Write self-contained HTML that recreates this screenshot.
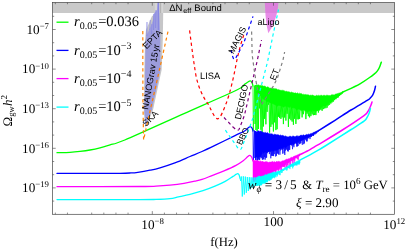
<!DOCTYPE html>
<html><head><meta charset="utf-8"><style>
html,body{margin:0;padding:0;background:#fff;}
svg{display:block;will-change:transform;text-rendering:geometricPrecision;}
.se{font-family:"Liberation Serif",serif;}
.sa{font-family:"Liberation Sans",sans-serif;}
</style></head><body>
<svg width="407" height="250" viewBox="0 0 407 250">
<rect width="407" height="250" fill="#fff"/>
<rect x="52.5" y="2.5" width="342.0" height="10.5" fill="#c9c9c9"/>
<rect x="154.8" y="2.8" width="8.4" height="10.2" fill="#d6d6d6"/>
<rect x="159.8" y="2.8" width="1.4" height="10.2" fill="#b4b4b4"/>
<polygon points="158,13 163.2,13 162.8,40 161.6,70 153,110 145.5,128 143.8,110 144.2,75 145,40 146,30 152,16" fill="#c6c6c8"/>
<polygon points="157.5,2.5 159.2,2.5 159.4,14 160.2,35 160.2,70 151.6,110 145.2,126 144.6,110 145.2,75 145.8,40 146.4,36 148,32 150.5,27 153,20 153.5,14 157,10" fill="#a2a2e2"/>
<polygon points="160.2,35 160.2,70 151.6,110 145.2,126 144.6,110 145.2,75 145.8,40 146.4,36 150,30" fill="#9c9cdc"/>
<line x1="147" y1="22" x2="146.8" y2="36" stroke="#8484e2" stroke-width="0.9"/>
<line x1="150.3" y1="20" x2="149.8" y2="30" stroke="#8484e2" stroke-width="0.7"/>
<line x1="154" y1="14" x2="153.6" y2="30" stroke="#8484e2" stroke-width="0.9"/>
<line x1="156" y1="10" x2="155.6" y2="28" stroke="#8484e2" stroke-width="0.8"/>
<line x1="158.3" y1="2.5" x2="158.3" y2="30" stroke="#8484e2" stroke-width="1.1"/>
<line x1="152" y1="24" x2="151.5" y2="34" stroke="#8484e2" stroke-width="0.7"/>
<polygon points="264.8,2.5 278.4,2.5 277.6,10 276.2,16 274.2,22 271.8,27.5 268.3,33.2 266.6,25 265.5,15" fill="#e16be1" fill-opacity="0.78"/>
<polyline points="253.0,86.0 253.3,131.0 254.6,85.5 255.0,124.0 255.6,85.0 255.9,130.0 256.3,85.0" fill="none" stroke="#00ff00" stroke-width="0.8" stroke-linejoin="miter"/>
<polygon points="256.3,84.8 257.1,84.7 257.9,85.3 258.7,84.7 259.5,85.4 260.3,85.4 261.1,85.2 261.9,85.9 262.7,85.6 263.5,86.2 264.3,86.0 265.1,86.2 265.9,86.7 266.7,87.4 267.5,86.8 268.3,87.1 269.1,87.7 269.9,88.3 270.7,88.0 271.5,88.0 272.3,88.8 273.1,88.0 273.9,89.1 274.7,88.6 275.5,88.7 276.3,88.8 277.1,89.2 277.9,89.9 278.7,89.4 279.5,90.0 280.3,90.3 281.1,90.2 281.9,90.5 282.7,90.2 283.5,90.4 284.3,90.7 285.1,91.4 285.9,91.3 286.7,91.3 287.5,91.7 288.3,91.7 289.1,91.7 289.9,92.3 290.7,92.4 291.5,92.0 292.3,92.5 293.1,92.6 293.9,93.1 294.7,93.1 295.5,92.7 296.3,93.6 297.1,92.8 297.9,93.3 298.7,93.8 299.5,93.2 300.3,93.7 301.1,93.3 301.9,94.1 302.7,94.4 303.5,94.2 304.3,94.7 305.1,94.2 305.9,94.7 306.7,94.7 307.5,94.8 308.3,94.8 309.1,95.3 309.9,95.5 310.7,95.1 311.5,95.4 312.3,94.8 313.1,95.6 313.9,95.6 314.7,96.0 315.5,95.9 316.3,95.3 317.1,95.5 317.9,95.8 318.7,95.2 319.5,95.7 320.3,95.4 321.1,95.3 321.9,95.2 322.7,96.0 323.5,95.2 324.3,95.3 325.1,95.4 325.9,95.9 326.7,94.9 327.5,95.3 328.3,95.4 329.1,95.6 329.9,95.5 330.7,95.4 331.5,94.8 332.3,94.8 333.1,94.7 333.9,94.9 334.7,94.8 335.5,94.1 336.3,93.9 337.1,93.7 337.9,93.4 338.7,93.2 339.5,93.0 340.3,92.7 341.1,92.4 341.9,92.2 342.7,91.9 343.0,91.8 343.0,92.3 342.7,92.5 341.9,93.2 341.1,93.8 340.3,94.7 339.5,95.4 338.7,95.9 337.9,96.6 337.1,97.6 336.3,98.2 335.5,98.4 334.7,99.4 333.9,99.4 333.1,100.2 332.3,101.1 331.5,101.8 330.7,102.5 329.9,102.8 329.1,102.5 328.3,104.2 327.5,104.5 326.7,104.8 325.9,105.8 325.1,106.3 324.3,106.3 323.5,106.1 322.7,106.5 321.9,107.0 321.1,107.4 320.3,108.1 319.5,109.5 318.7,110.0 317.9,110.4 317.1,110.0 316.3,111.3 315.5,111.3 314.7,111.0 313.9,111.5 313.1,110.9 312.3,110.8 311.5,111.2 310.7,111.4 309.9,110.8 309.1,111.5 308.3,111.5 307.5,111.4 306.7,111.3 305.9,111.4 305.1,111.0 304.3,110.0 303.5,110.0 302.7,110.7 301.9,110.1 301.1,110.4 300.3,109.3 299.5,109.5 298.7,109.1 297.9,109.6 297.1,109.7 296.3,109.7 295.5,108.7 294.7,107.7 293.9,108.4 293.1,107.5 292.3,107.9 291.5,108.4 290.7,106.7 289.9,106.8 289.1,107.7 288.3,106.7 287.5,106.7 286.7,106.2 285.9,106.1 285.1,106.6 284.3,106.5 283.5,107.2 282.7,106.9 281.9,105.6 281.1,105.9 280.3,105.8 279.5,105.5 278.7,105.3 277.9,105.9 277.1,106.2 276.3,104.7 275.5,105.2 274.7,104.6 273.9,104.3 273.1,103.7 272.3,103.4 271.5,103.6 270.7,102.9 269.9,102.7 269.1,102.1 268.3,101.7 267.5,102.1 266.7,100.6 265.9,100.4 265.1,99.7 264.3,99.7 263.5,99.2 262.7,98.4 261.9,97.9 261.1,95.7 260.3,95.9 259.5,95.0 258.7,94.1 257.9,93.8 257.1,93.6 256.3,92.4" fill="#00ff00" stroke="#00ff00" stroke-width="0.5"/>
<polyline points="256.5,91.1 257.1,131.1 257.8,92.1 258.4,129.0 259.0,93.0 259.6,108.4 260.2,94.2 260.9,129.8 261.5,95.5 262.1,133.1 262.8,96.6 263.4,126.5 264.0,97.7 264.6,118.8 265.2,98.7 265.9,124.3 266.5,99.8 267.1,111.9 267.8,100.8 268.4,104.7 269.0,101.4 269.6,132.6 270.2,102.0 270.9,126.9 271.5,102.5 272.1,124.4 272.8,103.0 273.4,131.5 274.0,103.6 274.6,122.4 275.2,104.0 275.9,130.1 276.5,104.2 277.1,129.2 277.8,104.4 278.4,116.8 279.0,104.5 279.6,117.9 280.2,104.7 280.9,118.9 281.5,104.9 282.1,117.4 282.8,105.0 283.4,124.1 284.0,105.2 284.6,117.5 285.2,105.4 285.9,120.6 286.5,105.5 287.1,113.8 287.8,105.7 288.4,126.9 289.0,105.9 289.6,118.7 290.2,106.1 290.9,120.2 291.5,106.4 292.1,121.6 292.8,106.7 293.4,124.8 294.0,107.0 294.6,118.8 295.2,107.3 295.9,123.9 296.5,107.6 297.1,119.3 297.8,107.9 298.4,119.3 299.0,108.2 299.6,118.9 300.2,108.5 300.9,110.4 301.5,108.7 302.1,117.4 302.8,108.9 303.4,114.2 304.0,109.1 304.6,109.8 305.2,109.2 305.9,119.1 306.5,109.4 307.1,113.7 307.8,109.6 308.4,116.2 309.0,109.8 309.6,117.4 310.2,110.0 310.9,116.1 311.5,110.1 312.1,114.4 312.8,110.3 313.4,115.2 314.0,110.5 314.6,115.0 315.2,109.8 315.9,115.1 316.5,109.1 317.1,111.0 317.8,108.4 318.4,112.6 319.0,107.7 319.6,110.4 320.2,107.0 320.9,109.8 321.5,106.3 322.1,110.8 322.8,105.7 323.4,109.1 324.0,105.0 324.6,108.4 325.2,104.3 325.9,108.2 326.5,103.6 327.1,107.7 327.8,102.8 328.4,105.5 329.0,101.9 329.6,104.8 330.2,101.0 330.9,103.5 331.5,100.2 332.1,102.4 332.8,99.3 333.4,101.6 334.0,98.4 334.6,100.1 335.2,97.5 335.9,99.2 336.5,96.7 337.1,98.0 337.8,95.6 338.4,97.4 339.0,94.6 339.6,96.0 340.2,93.6 340.9,95.0 341.5,92.5 342.1,93.9 342.8,91.5 343.4,92.1" fill="none" stroke="#00ff00" stroke-width="0.9" stroke-linejoin="miter"/>
<path d="M57.00,152.70C59.17,152.63 66.17,152.52 70.00,152.30C73.83,152.08 76.67,151.78 80.00,151.40C83.33,151.02 86.67,150.60 90.00,150.00C93.33,149.40 96.67,148.67 100.00,147.80C103.33,146.93 105.87,146.10 110.00,144.80C114.13,143.50 112.47,145.20 124.80,140.00C137.13,134.80 165.33,121.93 184.00,113.60C202.67,105.27 226.70,94.87 236.80,90.00C246.90,85.13 242.73,85.73 244.60,84.40C246.47,83.07 247.07,82.58 248.00,82.00C248.93,81.42 249.53,80.82 250.20,80.90C250.87,80.98 251.53,81.65 252.00,82.50C252.47,83.35 252.83,85.42 253.00,86.00" fill="none" stroke="#00ff00" stroke-width="1.3" stroke-linejoin="round" stroke-linecap="round"/>
<path d="M343.00,92.00C345.83,90.63 355.17,86.50 360.00,83.80C364.83,81.10 369.33,77.68 372.00,75.80C374.67,73.92 374.93,73.57 376.00,72.50C377.07,71.43 377.73,70.48 378.40,69.40C379.07,68.32 379.52,67.20 380.00,66.00C380.48,64.80 381.08,62.83 381.30,62.20" fill="none" stroke="#00ff00" stroke-width="1.5" stroke-linejoin="round" stroke-linecap="round"/>
<polyline points="253.0,131.0 253.3,160.0 254.5,130.5 254.9,158.0 255.3,131.0 255.6,160.0 255.6,131.5" fill="none" stroke="#0000ff" stroke-width="0.8" stroke-linejoin="miter"/>
<polygon points="255.6,131.6 256.4,131.8 257.2,131.4 258.0,130.7 258.8,130.9 259.6,131.4 260.4,131.1 261.2,131.5 262.0,131.4 262.8,132.3 263.6,132.5 264.4,132.8 265.2,132.2 266.0,132.9 266.8,133.0 267.6,132.6 268.4,133.6 269.2,133.9 270.0,133.2 270.8,134.2 271.6,133.7 272.4,134.0 273.2,134.7 274.0,134.7 274.8,134.1 275.6,134.5 276.4,134.8 277.2,134.7 278.0,134.7 278.8,134.9 279.6,135.5 280.4,134.9 281.2,135.6 282.0,135.6 282.8,135.3 283.6,135.8 284.4,136.2 285.2,136.2 286.0,135.8 286.8,136.9 287.6,136.8 288.4,137.1 289.2,136.2 290.0,136.4 290.8,136.1 291.6,136.9 292.4,136.2 293.2,136.0 294.0,136.3 294.8,136.7 295.6,136.5 296.4,135.9 297.2,135.7 298.0,136.4 298.8,136.0 299.6,136.1 300.4,135.3 301.2,135.1 302.0,135.6 302.8,135.2 303.6,134.7 304.4,135.5 305.2,135.0 306.0,135.0 306.8,134.2 307.6,134.7 308.4,134.0 309.2,134.4 310.0,134.0 310.8,133.6 311.6,133.4 312.4,133.2 313.2,132.6 314.0,132.2 314.8,132.0 315.6,131.6 316.4,131.2 317.2,130.9 318.0,130.6 318.8,130.3 319.0,130.2 319.0,130.8 318.8,130.9 318.0,131.5 317.2,132.0 316.4,132.7 315.6,133.1 314.8,133.6 314.0,134.4 313.2,134.9 312.4,135.5 311.6,136.1 310.8,136.5 310.0,137.1 309.2,137.1 308.4,137.5 307.6,137.5 306.8,137.8 306.0,138.6 305.2,138.5 304.4,139.1 303.6,139.0 302.8,140.2 302.0,140.0 301.2,140.8 300.4,141.1 299.6,141.3 298.8,141.0 298.0,141.9 297.2,142.1 296.4,143.4 295.6,142.6 294.8,143.4 294.0,144.4 293.2,144.6 292.4,143.8 291.6,144.4 290.8,144.3 290.0,145.1 289.2,145.1 288.4,145.4 287.6,145.8 286.8,146.7 286.0,147.4 285.2,147.7 284.4,146.8 283.6,147.3 282.8,147.8 282.0,148.9 281.2,148.1 280.4,148.6 279.6,148.7 278.8,149.3 278.0,149.5 277.2,150.1 276.4,150.3 275.6,150.7 274.8,150.0 274.0,151.2 273.2,150.9 272.4,150.8 271.6,150.7 270.8,151.6 270.0,151.3 269.2,151.3 268.4,152.1 267.6,151.2 266.8,152.7 266.0,152.1 265.2,151.8 264.4,152.6 263.6,153.1 262.8,152.3 262.0,153.9 261.2,154.7 260.4,156.5 259.6,156.8 258.8,157.3 258.0,157.0 257.2,157.7 256.4,157.0 255.6,157.0" fill="#0000ff" stroke="#0000ff" stroke-width="0.5"/>
<polyline points="255.8,156.0 256.2,156.3 256.5,156.0 256.9,160.3 257.2,156.0 257.6,160.5 257.9,156.0 258.2,159.3 258.6,156.0 258.9,159.8 259.3,156.0 259.6,160.1 260.0,156.0 260.3,156.8 260.7,155.0 261.0,158.3 261.4,153.9 261.7,157.7 262.1,152.9 262.4,159.8 262.8,151.8 263.1,159.3 263.5,151.4 263.8,159.3 264.2,151.2 264.5,157.1 264.9,151.1 265.2,159.7 265.6,150.9 265.9,157.8 266.3,150.8 266.6,157.7 267.0,150.6 267.3,153.2 267.7,150.5 268.0,150.9 268.4,150.3 268.7,151.9 269.1,150.1 269.4,154.1 269.8,150.0 270.1,151.3 270.5,149.8 270.8,158.3 271.2,149.7 271.5,155.6 271.9,149.5 272.2,156.0 272.6,149.4 272.9,155.8 273.3,149.3 273.6,156.1 274.0,149.1 274.3,154.1 274.7,149.0 275.0,149.0 275.4,148.9 275.7,156.5 276.1,148.7 276.4,155.8 276.8,148.6 277.1,153.5 277.5,148.5 277.8,153.6 278.2,148.3 278.5,154.5 278.9,148.2 279.2,149.0 279.6,148.1 279.9,154.7 280.3,147.9 280.6,150.4 281.0,147.6 281.3,148.4 281.7,147.3 282.0,150.0 282.4,147.0 282.7,153.7 283.1,146.7 283.4,148.8 283.8,146.4 284.1,153.3 284.5,146.1 284.8,155.0 285.2,145.8 285.5,150.6 285.9,145.5 286.2,149.3 286.6,145.2 286.9,149.8 287.3,144.9 287.6,151.2 288.0,144.6 288.3,151.5 288.7,144.3 289.0,150.0 289.4,144.1 289.7,149.8 290.1,143.8 290.4,144.6 290.8,143.5 291.1,145.0 291.5,143.2 291.8,145.6 292.2,143.0 292.5,149.2 292.9,142.7 293.2,145.5 293.6,142.4 293.9,147.2 294.3,142.2 294.6,142.3 295.0,141.9 295.3,142.5 295.7,141.6 296.0,144.0 296.4,141.4 296.7,146.6 297.1,141.1 297.4,146.4 297.8,140.8 298.1,146.0 298.5,140.6 298.8,142.9 299.2,140.3 299.5,144.2 299.9,140.0 300.2,143.6 300.6,139.7 300.9,143.2 301.3,139.5 301.6,140.4 302.0,139.2 302.3,144.8 302.7,138.9 303.0,140.3 303.4,138.6 303.7,144.2 304.1,138.3 304.4,143.4 304.8,138.0 305.1,138.1 305.5,137.7 305.8,140.1 306.2,137.4 306.5,141.3 306.9,137.1 307.2,141.4 307.6,136.8 307.9,138.8 308.3,136.5 308.6,137.7 309.0,136.2 309.3,137.1 309.7,135.9 310.0,139.1 310.4,135.5 310.7,136.3 311.1,135.1 311.4,136.9 311.8,134.6 312.1,135.1 312.5,134.1 312.8,135.6 313.2,133.7 313.5,136.0 313.9,133.2 314.2,133.6 314.6,132.7 314.9,134.6 315.3,132.3 315.6,133.4 316.0,131.8 316.3,133.5 316.7,131.3 317.0,132.6 317.4,130.9 317.7,131.3 318.1,130.4 318.4,131.7 318.8,129.9 319.1,130.6" fill="none" stroke="#0000ff" stroke-width="0.65" stroke-linejoin="miter"/>
<path d="M57.00,173.40C64.17,173.40 89.50,173.42 100.00,173.40C110.50,173.38 115.00,173.37 120.00,173.30C125.00,173.23 127.03,173.17 130.00,173.00C132.97,172.83 134.47,172.77 137.80,172.30C141.13,171.83 146.30,170.95 150.00,170.20C153.70,169.45 155.73,169.07 160.00,167.80C164.27,166.53 170.60,164.48 175.60,162.60C180.60,160.72 185.60,158.35 190.00,156.50C194.40,154.65 197.83,153.35 202.00,151.50C206.17,149.65 209.50,148.05 215.00,145.40C220.50,142.75 230.07,138.00 235.00,135.60C239.93,133.20 242.43,132.27 244.60,131.00C246.77,129.73 247.07,128.73 248.00,128.00C248.93,127.27 249.53,126.60 250.20,126.60C250.87,126.60 251.53,127.27 252.00,128.00C252.47,128.73 252.83,130.50 253.00,131.00" fill="none" stroke="#0000ff" stroke-width="1.3" stroke-linejoin="round" stroke-linecap="round"/>
<path d="M319.00,130.30C321.67,128.63 329.67,123.68 335.00,120.30C340.33,116.92 345.63,113.32 351.00,110.00C356.37,106.68 363.95,102.43 367.20,100.40C370.45,98.37 369.57,98.73 370.50,97.80C371.43,96.87 372.13,96.02 372.80,94.80C373.47,93.58 374.05,91.93 374.50,90.50C374.95,89.07 375.33,86.92 375.50,86.20" fill="none" stroke="#0000ff" stroke-width="1.5" stroke-linejoin="round" stroke-linecap="round"/>
<polygon points="253.0,160.5 253.8,160.3 254.6,160.6 255.4,160.5 256.2,160.5 257.0,160.4 257.8,160.8 258.6,160.9 259.4,161.5 260.2,160.7 261.0,161.6 261.8,161.8 262.6,161.0 263.4,162.0 264.2,161.9 265.0,162.1 265.8,161.5 266.6,161.7 267.4,161.8 268.2,162.6 269.0,162.2 269.8,162.0 270.6,162.1 271.4,161.9 272.2,161.5 273.0,161.6 273.8,162.3 274.6,161.6 275.4,162.3 276.2,161.5 277.0,161.5 277.8,161.7 278.6,161.3 279.4,161.4 280.2,161.9 281.0,161.6 281.8,161.2 282.6,160.8 283.4,160.8 284.2,160.6 285.0,159.9 285.8,159.8 286.6,158.9 287.4,159.3 288.2,158.8 289.0,158.7 289.8,158.4 290.6,157.8 291.4,157.3 292.2,157.5 293.0,156.7 293.8,156.5 294.6,156.1 295.4,155.8 296.2,155.5 297.0,155.2 297.8,154.7 298.6,154.4 299.4,154.1 300.0,153.8 300.0,155.3 299.4,155.7 298.6,156.1 297.8,156.6 297.0,156.9 296.2,157.3 295.4,157.8 294.6,158.7 293.8,159.1 293.0,159.5 292.2,160.1 291.4,160.1 290.6,160.2 289.8,161.3 289.0,161.7 288.2,162.8 287.4,163.2 286.6,162.8 285.8,163.4 285.0,165.3 284.2,165.8 283.4,166.6 282.6,166.3 281.8,166.7 281.0,166.9 280.2,167.4 279.4,167.8 278.6,169.3 277.8,169.4 277.0,169.7 276.2,169.6 275.4,171.4 274.6,170.7 273.8,170.7 273.0,171.6 272.2,172.0 271.4,172.7 270.6,172.9 269.8,173.3 269.0,174.2 268.2,174.8 267.4,174.9 266.6,175.1 265.8,175.7 265.0,176.2 264.2,177.2 263.4,177.5 262.6,178.3 261.8,178.8 261.0,179.4 260.2,180.3 259.4,180.3 258.6,179.2 257.8,179.8 257.0,180.5 256.2,179.5 255.4,179.5 254.6,179.6 253.8,180.1 253.0,180.4" fill="#ff00ff" stroke="#ff00ff" stroke-width="0.5"/>
<polyline points="253.2,179.0 253.5,181.9 253.9,178.9 254.2,181.5 254.6,178.8 254.9,181.8 255.3,178.7 255.6,180.6 256.0,178.7 256.3,180.8 256.7,178.6 257.0,178.8 257.4,178.5 257.7,181.3 258.1,178.4 258.4,179.4 258.8,178.4 259.1,181.5 259.5,178.3 259.8,180.5 260.2,178.2 260.5,179.3 260.9,178.1 261.2,178.6 261.6,178.0 261.9,178.9 262.3,177.8 262.6,179.8 263.0,177.2 263.3,179.4 263.7,176.6 264.0,177.0 264.4,176.0 264.7,176.3 265.1,175.4 265.4,177.3 265.8,174.8 266.1,177.0 266.5,174.3 266.8,175.8 267.2,173.7 267.5,174.6 267.9,173.1 268.2,175.6 268.6,172.7 268.9,172.8 269.3,172.4 269.6,173.8 270.0,172.0 270.3,174.1 270.7,171.7 271.0,175.7 271.4,171.3 271.7,174.2 272.1,171.0 272.4,174.8 272.8,170.6 273.1,172.8 273.5,170.3 273.8,171.4 274.2,169.9 274.5,171.2 274.9,169.6 275.2,173.9 275.6,169.2 275.9,172.5 276.3,168.8 276.6,170.4 277.0,168.4 277.3,168.6 277.7,168.0 278.0,170.6 278.4,167.6 278.7,171.0 279.1,167.1 279.4,169.5 279.8,166.7 280.1,168.2 280.5,166.3 280.8,170.0 281.2,165.9 281.5,170.9 281.9,165.5 282.2,166.9 282.6,165.0 282.9,165.3 283.3,164.6 283.6,166.8 284.0,164.1 284.3,166.8 284.7,163.6 285.0,167.8 285.4,163.1 285.7,164.5 286.1,162.6 286.4,167.6 286.8,162.1 287.1,166.9 287.5,161.6 287.8,165.1 288.2,161.1 288.5,162.7 288.9,160.6 289.2,167.0 289.6,160.1 289.9,162.4 290.3,159.6 290.6,165.3 291.0,159.3 291.3,161.1 291.7,158.9 292.0,160.6 292.4,158.5 292.7,163.7 293.1,158.1 293.4,160.2 293.8,157.7 294.1,163.6 294.5,157.3 294.8,160.5 295.2,156.9 295.5,158.2 295.9,156.6 296.2,158.0 296.6,156.2 296.9,158.5 297.3,155.8 297.6,159.2 298.0,155.4 298.3,159.9 298.7,155.0 299.0,155.8 299.4,154.6 299.7,156.4" fill="none" stroke="#ff00ff" stroke-width="0.65" stroke-linejoin="miter"/>
<path d="M57.00,186.70C70.83,186.67 123.50,186.58 140.00,186.50C156.50,186.42 151.00,186.42 156.00,186.20C161.00,185.98 165.33,185.67 170.00,185.20C174.67,184.73 179.83,184.07 184.00,183.40C188.17,182.73 192.00,181.87 195.00,181.20C198.00,180.53 199.17,180.33 202.00,179.40C204.83,178.47 208.33,177.02 212.00,175.60C215.67,174.18 220.00,172.60 224.00,170.90C228.00,169.20 232.80,167.08 236.00,165.40C239.20,163.72 241.28,162.23 243.20,160.80C245.12,159.37 246.43,157.70 247.50,156.80C248.57,155.90 248.92,155.37 249.60,155.40C250.28,155.43 251.03,156.07 251.60,157.00C252.17,157.93 252.77,160.33 253.00,161.00" fill="none" stroke="#ff00ff" stroke-width="1.3" stroke-linejoin="round" stroke-linecap="round"/>
<path d="M300.00,154.70C301.67,153.85 307.10,151.18 310.00,149.60C312.90,148.02 312.00,148.47 317.40,145.20C322.80,141.93 334.63,134.93 342.40,130.00C350.17,125.07 359.82,118.60 364.00,115.60C368.18,112.60 366.57,113.20 367.50,112.00C368.43,110.80 369.02,109.57 369.60,108.40C370.18,107.23 370.60,106.07 371.00,105.00C371.40,103.93 371.83,102.50 372.00,102.00" fill="none" stroke="#ff00ff" stroke-width="1.5" stroke-linejoin="round" stroke-linecap="round"/>
<polyline points="240.0,178.0 240.6,181.0 241.4,176.5 242.3,196.5 243.3,176.3 244.3,194.5 245.3,176.6 246.3,192.8 247.3,177.0 248.3,191.0 249.3,177.2 250.2,189.3 251.1,177.4 252.0,187.8 252.9,177.5 253.7,186.6 254.5,177.5 255.2,185.8 256.0,177.4" fill="none" stroke="#00ffff" stroke-width="0.9" stroke-linejoin="miter"/>
<polygon points="256.0,177.2 256.8,177.8 257.6,176.7 258.4,176.3 259.2,176.1 260.0,176.3 260.8,176.6 261.6,176.3 262.4,176.0 263.2,176.0 264.0,175.7 264.8,174.8 265.6,174.4 266.4,175.0 267.2,174.6 268.0,173.6 268.8,174.1 269.6,173.6 270.4,173.3 271.2,173.1 272.0,172.7 272.8,172.3 273.6,172.3 274.4,172.2 275.2,172.6 276.0,171.5 276.8,172.2 277.6,171.2 278.4,171.1 279.2,171.4 280.0,171.2 280.8,170.5 281.6,169.9 282.4,170.1 283.2,169.8 284.0,170.1 284.8,168.9 285.6,168.8 286.4,169.0 287.2,167.9 288.0,167.9 288.8,167.9 289.6,167.6 290.4,166.7 291.2,166.4 292.0,166.1 292.8,166.3 293.6,165.6 294.4,165.5 295.2,165.3 296.0,164.8 296.8,164.4 297.6,164.2 298.4,163.9 299.2,163.5 300.0,163.2 300.0,160.6 299.2,161.0 298.4,161.5 297.6,161.8 296.8,162.4 296.0,162.9 295.2,163.3 294.4,163.7 293.6,164.1 292.8,164.4 292.0,164.7 291.2,165.3 290.4,166.0 289.6,166.3 288.8,166.3 288.0,166.7 287.2,167.4 286.4,168.9 285.6,169.3 284.8,170.0 284.0,169.4 283.2,170.2 282.4,169.9 281.6,170.4 280.8,171.1 280.0,172.4 279.2,172.2 278.4,172.7 277.6,174.4 276.8,174.4 276.0,175.0 275.2,175.7 274.4,176.7 273.6,177.5 272.8,178.1 272.0,178.5 271.2,179.1 270.4,178.6 269.6,180.3 268.8,180.1 268.0,180.6 267.2,180.8 266.4,181.5 265.6,182.8 264.8,183.2 264.0,182.9 263.2,182.9 262.4,183.0 261.6,184.9 260.8,184.9 260.0,185.7 259.2,185.9 258.4,184.8 257.6,185.3 256.8,185.3 256.0,186.0" fill="#00ffff" stroke="#00ffff" stroke-width="0.5"/>
<polyline points="256.0,184.3 256.4,185.6 256.7,184.3 257.1,185.2 257.4,184.3 257.8,186.0 258.1,184.3 258.4,184.8 258.8,184.3 259.1,184.9 259.5,184.0 259.8,184.7 260.2,183.7 260.5,184.1 260.9,183.3 261.2,185.3 261.6,182.9 261.9,184.3 262.3,182.5 262.6,183.3 263.0,182.2 263.3,183.1 263.7,181.8 264.0,184.0 264.4,181.4 264.7,182.6 265.1,181.0 265.4,181.6 265.8,180.6 266.1,182.5 266.5,180.3 266.8,181.8 267.2,179.9 267.5,182.2 267.9,179.4 268.2,179.7 268.6,179.0 268.9,180.2 269.3,178.5 269.6,180.6 270.0,178.1 270.3,180.2 270.7,177.6 271.0,180.0 271.4,177.1 271.7,177.3 272.1,176.7 272.4,177.6 272.8,176.2 273.1,176.6 273.5,175.8 273.8,176.4 274.2,175.3 274.5,178.2 274.9,174.9 275.2,176.7 275.6,174.3 275.9,177.3 276.3,173.7 276.6,175.1 277.0,173.2 277.3,176.4 277.7,172.6 278.0,174.5 278.4,172.0 278.7,173.2 279.1,171.4 279.4,174.9 279.8,170.9 280.1,175.2 280.5,170.4 280.8,171.0 281.2,170.0 281.5,172.9 281.9,169.6 282.2,172.7 282.6,169.2 282.9,170.4 283.3,168.8 283.6,170.8 284.0,168.3 284.3,169.2 284.7,167.9 285.0,169.1 285.4,167.5 285.7,169.0 286.1,167.1 286.4,170.4 286.8,166.7 287.1,170.3 287.5,166.3 287.8,167.6 288.2,165.9 288.5,166.0 288.9,165.4 289.2,167.5 289.6,165.0 289.9,169.1 290.3,164.6 290.6,165.9 291.0,164.3 291.3,166.3 291.7,163.9 292.0,165.3 292.4,163.6 292.7,168.4 293.1,163.2 293.4,166.7 293.8,162.8 294.1,163.3 294.5,162.5 294.8,163.2 295.2,162.1 295.5,164.7 295.9,161.7 296.2,165.3 296.6,161.4 296.9,165.5 297.3,161.0 297.6,161.7 298.0,160.6 298.3,161.9 298.7,160.3 299.0,164.8 299.4,159.9 299.7,162.8" fill="none" stroke="#00ffff" stroke-width="0.65" stroke-linejoin="miter"/>
<path d="M57.00,199.60C70.83,199.60 123.50,199.63 140.00,199.60C156.50,199.57 151.00,199.57 156.00,199.40C161.00,199.23 166.27,199.02 170.00,198.60C173.73,198.18 175.07,197.60 178.40,196.90C181.73,196.20 185.90,195.43 190.00,194.40C194.10,193.37 198.83,192.07 203.00,190.70C207.17,189.33 211.30,187.75 215.00,186.20C218.70,184.65 222.20,183.03 225.20,181.40C228.20,179.77 231.20,177.57 233.00,176.40C234.80,175.23 235.20,174.85 236.00,174.40C236.80,173.95 237.30,173.63 237.80,173.70C238.30,173.77 238.63,174.08 239.00,174.80C239.37,175.52 239.83,177.47 240.00,178.00" fill="none" stroke="#00ffff" stroke-width="1.3" stroke-linejoin="round" stroke-linecap="round"/>
<path d="M300.00,160.10C301.67,159.22 307.10,156.38 310.00,154.80C312.90,153.22 314.73,152.15 317.40,150.60C320.07,149.05 320.50,148.93 326.00,145.50C331.50,142.07 344.07,134.05 350.40,130.00C356.73,125.95 361.23,123.28 364.00,121.20C366.77,119.12 366.20,118.70 367.00,117.50C367.80,116.30 368.33,115.08 368.80,114.00C369.27,112.92 369.53,111.93 369.80,111.00C370.07,110.07 370.30,108.83 370.40,108.40" fill="none" stroke="#00ffff" stroke-width="1.5" stroke-linejoin="round" stroke-linecap="round"/>
<polyline points="142.8,31 142.9,100 143.6,140 147.5,122 156,85 168.2,30.5" stroke="#ff8000" stroke-dasharray="3.2,3" fill="none" stroke-width="1.2"/>
<path d="M189.6,30.4 C191.5,45 193,58 196,75.8 C198.5,88 203,97 208.8,105.2 C212,112 215,118.6 217.6,118.8 C220.5,118.6 223.5,110 226.4,102.8 C230,93 233.5,78 236,64.6 C238.5,52 241,43 244,34.4" stroke="#ff0000" stroke-dasharray="3.2,3" fill="none" stroke-width="1.2"/>
<polyline points="231.2,50 232,55 233.8,59.4 236,57.5 239,52 244,42.4 253,16.4" stroke="#0000ff" stroke-dasharray="3.2,3" fill="none" stroke-width="1.2"/>
<path d="M224,117.5 L233,127 Q237.5,131.5 239,129.5 Q242,122 244.5,115 L257.4,60 L261.5,40" stroke="#800080" stroke-dasharray="3.2,3" fill="none" stroke-width="1.2"/>
<path d="M251.6,31.5 L252.2,55 L254.2,70 Q258,95 261.4,104.6 Q266,98 273.4,86 L277.4,78 L283,60 L284.6,52" stroke="#808080" stroke-dasharray="3.2,3" fill="none" stroke-width="1.2"/>
<path d="M225.4,130.2 L236.5,146 Q239.8,151.5 241.4,148.5 L247,134.2 L252.6,119 L267.5,62 L272.8,36 L278.5,9.5" stroke="#00ffff" stroke-dasharray="3.2,3" fill="none" stroke-width="1.2"/>
<rect x="52.5" y="2.5" width="342.0" height="211.8" fill="none" stroke="#444" stroke-width="0.7"/>
<path d="M55.34,214.3v-1.7M55.34,2.5v1.7M67.46,214.3v-1.7M67.46,2.5v1.7M91.70,214.3v-1.7M91.70,2.5v1.7M103.82,214.3v-1.7M103.82,2.5v1.7M115.94,214.3v-1.7M115.94,2.5v1.7M128.06,214.3v-1.7M128.06,2.5v1.7M152.30,214.3v-3.2M152.30,2.5v3.2M164.42,214.3v-1.7M164.42,2.5v1.7M176.54,214.3v-1.7M176.54,2.5v1.7M188.66,214.3v-1.7M188.66,2.5v1.7M212.90,214.3v-1.7M212.90,2.5v1.7M225.02,214.3v-1.7M225.02,2.5v1.7M237.14,214.3v-1.7M237.14,2.5v1.7M249.26,214.3v-1.7M249.26,2.5v1.7M273.50,214.3v-3.2M273.50,2.5v3.2M285.62,214.3v-1.7M285.62,2.5v1.7M297.74,214.3v-1.7M297.74,2.5v1.7M309.86,214.3v-1.7M309.86,2.5v1.7M334.10,214.3v-1.7M334.10,2.5v1.7M346.22,214.3v-1.7M346.22,2.5v1.7M358.34,214.3v-1.7M358.34,2.5v1.7M370.46,214.3v-1.7M370.46,2.5v1.7M52.5,201.10h1.7M394.5,201.10h-1.7M52.5,187.90h3.2M394.5,187.90h-3.2M52.5,174.70h1.7M394.5,174.70h-1.7M52.5,161.50h1.7M394.5,161.50h-1.7M52.5,148.30h3.2M394.5,148.30h-3.2M52.5,135.10h1.7M394.5,135.10h-1.7M52.5,121.90h1.7M394.5,121.90h-1.7M52.5,108.70h3.2M394.5,108.70h-3.2M52.5,95.50h1.7M394.5,95.50h-1.7M52.5,82.30h1.7M394.5,82.30h-1.7M52.5,69.10h3.2M394.5,69.10h-3.2M52.5,55.90h1.7M394.5,55.90h-1.7M52.5,42.70h1.7M394.5,42.70h-1.7M52.5,29.50h3.2M394.5,29.50h-3.2M52.5,16.30h1.7M394.5,16.30h-1.7" stroke="#444" stroke-width="0.6" fill="none"/>
<text x="49" y="33.8" text-anchor="end" class="se" font-size="13.2" fill="#000">10<tspan dy="-4.8" font-size="8.8">−7</tspan></text>
<text x="49" y="73.4" text-anchor="end" class="se" font-size="13.2" fill="#000">10<tspan dy="-4.8" font-size="8.8">−10</tspan></text>
<text x="49" y="113.0" text-anchor="end" class="se" font-size="13.2" fill="#000">10<tspan dy="-4.8" font-size="8.8">−13</tspan></text>
<text x="49" y="152.6" text-anchor="end" class="se" font-size="13.2" fill="#000">10<tspan dy="-4.8" font-size="8.8">−16</tspan></text>
<text x="49" y="192.2" text-anchor="end" class="se" font-size="13.2" fill="#000">10<tspan dy="-4.8" font-size="8.8">−19</tspan></text>
<text x="152.6" y="229" text-anchor="middle" class="se" font-size="13.2">10<tspan dy="-4.8" font-size="8.8">−8</tspan></text>
<text x="273.5" y="225.8" text-anchor="middle" class="se" font-size="13.2">100</text>
<text x="394.2" y="228.7" text-anchor="middle" class="se" font-size="13.2">10<tspan dy="-4.8" font-size="8.8">12</tspan></text>
<text x="210.3" y="246" class="se" font-size="12.7">f(Hz)</text>
<text transform="translate(11.5,126.5) rotate(-90)" class="se" font-size="13">Ω<tspan dy="2.5" font-size="8.5">gw</tspan><tspan dy="-2.5" font-style="italic" dx="0.5">h</tspan><tspan dy="-5" font-size="9">2</tspan></text>
<line x1="56.5" y1="22.2" x2="68.5" y2="22.2" stroke="#00ff00" stroke-width="1.3"/>
<text x="74" y="26.4" class="se" font-size="14.5"><tspan font-style="italic">r</tspan><tspan dy="3" font-size="10">0.05</tspan><tspan dy="-3" dx="1">=0.036</tspan></text>
<line x1="56.5" y1="50.4" x2="68.5" y2="50.4" stroke="#0000ff" stroke-width="1.3"/>
<text x="74" y="54.6" class="se" font-size="14.5"><tspan font-style="italic">r</tspan><tspan dy="3" font-size="10">0.05</tspan><tspan dy="-3" dx="1">=10</tspan><tspan dy="-5.5" font-size="10">−3</tspan></text>
<line x1="56.5" y1="78.6" x2="68.5" y2="78.6" stroke="#ff00ff" stroke-width="1.3"/>
<text x="74" y="82.8" class="se" font-size="14.5"><tspan font-style="italic">r</tspan><tspan dy="3" font-size="10">0.05</tspan><tspan dy="-3" dx="1">=10</tspan><tspan dy="-5.5" font-size="10">−4</tspan></text>
<line x1="56.5" y1="107.1" x2="68.5" y2="107.1" stroke="#00ffff" stroke-width="1.3"/>
<text x="74" y="111.3" class="se" font-size="14.5"><tspan font-style="italic">r</tspan><tspan dy="3" font-size="10">0.05</tspan><tspan dy="-3" dx="1">=10</tspan><tspan dy="-5.5" font-size="10">−5</tspan></text>
<text x="247.7" y="189" class="se" font-size="13.2"><tspan font-style="italic">w</tspan><tspan dy="3" font-size="9.5" font-style="italic">ϕ</tspan><tspan dy="-3"> = 3 </tspan><tspan dx="-1.2">/ </tspan><tspan dx="-1.2">5</tspan></text>
<text x="302.3" y="189" class="se" font-size="12.75">&amp; <tspan font-style="italic">T</tspan><tspan dy="3" font-size="9.2">re</tspan><tspan dy="-3"> = 10</tspan><tspan dy="-5" font-size="9.2">6</tspan><tspan dy="5"> GeV</tspan></text>
<text x="296" y="206.6" class="se" font-size="13.1"><tspan font-style="italic">ξ</tspan> = 2.90</text>
<text x="169.2" y="11.2" class="sa" font-size="9.5">ΔN</text><text x="183.3" y="12.7" class="sa" font-size="7.2">eff</text><text x="194.3" y="11.2" class="sa" font-size="9.5">Bound</text>
<text x="257.5" y="24.8" class="sa" font-size="9">aLigo</text>
<text x="200" y="79" class="sa" font-size="9.3">LISA</text>
<text transform="translate(146.5,49.5) rotate(-45)" class="sa" font-size="9">EPTA</text>
<text transform="translate(148,110) rotate(-80)" class="sa" font-size="9">NANOGrav 15<tspan dx="0.8">yr</tspan></text>
<text transform="translate(146,127) rotate(-45)" class="sa" font-size="9">SKA</text>
<text transform="translate(233.4,54.4) rotate(-63)" class="sa" font-size="9">MAGIS</text>
<text transform="translate(240.8,120) rotate(-78)" class="sa" font-size="9">DECIGO</text>
<text transform="translate(241.6,145.6) rotate(-65)" class="sa" font-size="8.5">BBO</text>
<text transform="translate(275.3,81) rotate(-68)" class="sa" font-size="9">ET</text>
</svg>
</body></html>
